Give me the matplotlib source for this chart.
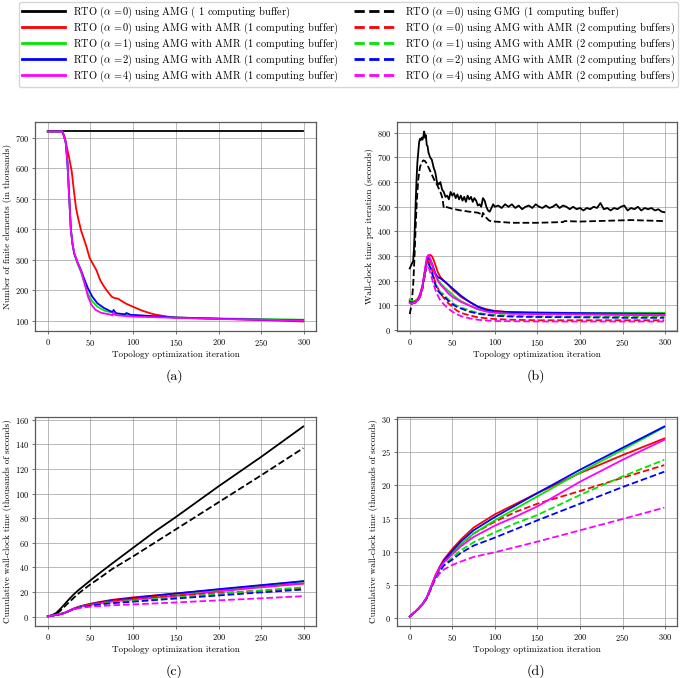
import matplotlib
matplotlib.use("Agg")
import matplotlib.pyplot as plt

plt.rcParams['font.family'] = 'serif'
plt.rcParams['font.serif'] = ['cmr10']
plt.rcParams['mathtext.fontset'] = 'cm'
plt.rcParams['axes.formatter.use_mathtext'] = True

# ---------------- data ----------------
# (a) number of finite elements (thousands)
it_a_black = [0, 299]
a_black = [720, 720]
it_a_red = [0, 17, 20, 23, 25, 28, 30, 33, 36, 39, 42, 45, 49, 53, 57, 61, 65, 70, 75, 78, 82, 86, 92, 100, 111, 120, 127, 140, 150, 200, 250, 299]
a_red = [720, 720, 700, 660, 634, 590, 540, 470, 430, 395, 370, 345, 305, 285, 265, 235, 215, 195, 178, 174, 172, 165, 155, 145, 132, 124, 119, 113, 110, 106, 102, 97]
it_a_grn = [0, 17, 19, 21, 23, 25, 27, 29, 31, 35, 39, 43, 47, 52, 58, 66, 74, 80, 90, 100, 150, 200, 250, 299]
a_grn = [720, 720, 705, 684, 620, 510, 400, 350, 318, 285, 258, 222, 188, 163, 146, 133, 127, 123, 120, 117, 110, 107, 105, 103]
it_a_blu = [0, 17, 19, 21, 23, 25, 27, 29, 31, 35, 39, 43, 47, 52, 58, 66, 74, 76, 77, 80, 89, 91, 92, 97, 150, 200, 250, 299]
a_blu = [720, 720, 705, 684, 620, 510, 400, 350, 320, 290, 265, 234, 206, 179, 157, 141, 130, 128, 135, 124, 121, 121, 125, 119, 110, 106, 103, 101]
it_a_mag = [0, 17, 19, 21, 23, 25, 27, 29, 31, 35, 39, 43, 47, 51, 56, 62, 74, 76, 77, 79, 86, 101, 150, 200, 250, 299]
a_mag = [720, 720, 705, 684, 618, 508, 398, 350, 322, 289, 262, 223, 179, 152, 135, 126, 119, 117, 127, 118, 116, 113, 109, 105, 103, 100]

# (b) wall-clock time per iteration (seconds)
it_b_k = [0, 2, 4, 5, 6, 7, 8, 9, 10, 11, 12, 13, 14, 15, 16, 17, 18, 19, 20, 21, 22, 23, 24, 26, 28, 30, 32, 34, 36, 38, 40, 42, 44, 46, 48, 50, 52, 54, 56, 58, 60, 62, 64, 66, 68, 70, 72, 74, 76, 78, 80, 82, 84, 86, 88, 90, 92, 94, 96, 98, 100,
          104, 108, 112, 116, 120, 124, 128, 132, 136, 140, 144, 148, 152, 156, 160, 164, 168, 172, 176, 180, 184, 188, 192, 196, 200, 204, 208, 212, 216, 220, 224, 228, 232, 236, 240, 244, 248, 252, 256, 260, 264, 268, 272, 276, 280, 284, 288, 292, 296, 299]
b_k = [250, 265, 280, 330, 420, 520, 610, 680, 720, 760, 775, 770, 780, 772, 785, 805, 780, 790, 750, 745, 720, 710, 700, 690, 660, 640, 600, 590, 600, 570, 560, 540, 545, 530, 560, 545, 555, 535, 550, 530, 545, 525, 540, 520, 545, 530, 540, 520, 535, 525, 505, 510, 500, 535, 525, 500, 485, 480, 495, 510, 500,
       505, 495, 510, 500, 510, 495, 505, 490, 500, 505, 495, 510, 500, 495, 505, 495, 500, 510, 495, 505, 500, 490, 500, 490, 495, 485, 495, 490, 500, 495, 515, 490, 495, 485, 495, 490, 500, 505, 485, 495, 490, 500, 485, 495, 490, 495, 485, 490, 480, 478]
it_b_kd = [0, 2, 4, 5, 6, 7, 8, 9, 10, 12, 14, 16, 18, 20, 22, 24, 26, 28, 30, 32, 34, 36, 38, 39, 40, 42, 50, 60, 70, 80, 84, 85, 86, 88, 90, 93, 96, 100, 120, 150, 180, 182, 200, 230, 260, 299]
b_kd = [65, 100, 180, 250, 330, 420, 500, 560, 610, 660, 680, 688, 685, 675, 660, 645, 630, 615, 600, 590, 575, 560, 540, 520, 495, 500, 492, 485, 480, 476, 470, 460, 475, 465, 455, 445, 440, 440, 435, 435, 438, 442, 440, 443, 446, 442]

it_b = [0, 3, 6, 9, 12, 15, 18, 20, 22, 24, 26, 28, 30, 33, 36, 40, 45, 50, 55, 60, 70, 80, 90, 100, 120, 150, 200, 250, 299]
b_red = [120, 115, 118, 125, 145, 180, 240, 280, 300, 305, 300, 285, 265, 235, 215, 200, 185, 165, 150, 135, 115, 95, 85, 78, 72, 68, 65, 62, 60]
b_grn = [125, 118, 115, 122, 140, 175, 240, 275, 290, 285, 270, 250, 230, 205, 190, 175, 160, 145, 130, 118, 100, 85, 78, 74, 72, 71, 70, 70, 70]
b_blu = [115, 112, 115, 120, 138, 175, 240, 280, 295, 285, 270, 250, 230, 215, 210, 200, 185, 170, 155, 140, 115, 95, 82, 76, 73, 71, 69, 67, 66]
b_mag = [110, 108, 112, 120, 140, 180, 250, 295, 305, 290, 270, 245, 225, 200, 185, 170, 150, 135, 125, 115, 100, 85, 75, 70, 66, 65, 64, 63, 62]
b_red_d = [110, 108, 110, 118, 135, 170, 230, 270, 280, 265, 245, 220, 195, 170, 150, 130, 110, 95, 80, 70, 60, 52, 48, 45, 42, 40, 40, 40, 40]
b_grn_d = [120, 115, 115, 120, 135, 170, 230, 265, 270, 255, 235, 210, 190, 165, 155, 145, 125, 110, 100, 92, 80, 70, 65, 62, 58, 56, 55, 55, 55]
b_blu_d = [115, 112, 112, 118, 135, 170, 230, 265, 270, 255, 235, 210, 185, 160, 148, 138, 120, 105, 95, 88, 75, 67, 62, 58, 55, 53, 52, 50, 50]
b_mag_d = [110, 108, 112, 118, 135, 170, 235, 262, 258, 235, 210, 185, 165, 140, 120, 105, 88, 75, 65, 57, 48, 42, 39, 37, 36, 35, 35, 35, 35]

# (c)/(d) cumulative wall-clock time (thousands of seconds)
it_c = [0, 5, 10, 15, 20, 25, 30, 35, 40, 50, 60, 75, 100, 125, 150, 200, 250, 299]
c_black = [0.25, 1.2, 3.0, 6.5, 10.3, 14.2, 17.8, 21.0, 23.8, 29.5, 35, 43, 56, 69, 81, 106, 130, 154.6]
c_black_d = [0.07, 0.8, 2.0, 5.0, 8.4, 11.8, 15.0, 18.2, 21.0, 26.3, 31, 38.5, 49, 60, 71, 93, 115, 137]
c_red = [0.25, 0.8, 1.4, 2.1, 3.1, 4.7, 6.4, 7.7, 8.8, 10.4, 11.8, 13.6, 15.6, 17.2, 18.8, 21.8, 24.5, 27.0]
c_grn = [0.25, 0.8, 1.4, 2.1, 3.1, 4.6, 6.2, 7.4, 8.5, 9.8, 11.1, 12.7, 14.7, 16.5, 18.3, 21.9, 25.3, 28.7]
c_blu = [0.25, 0.8, 1.4, 2.1, 3.1, 4.6, 6.2, 7.5, 8.6, 10.1, 11.5, 13.2, 15.2, 17.0, 18.8, 22.3, 25.6, 28.8]
c_mag = [0.25, 0.8, 1.4, 2.1, 3.1, 4.7, 6.3, 7.5, 8.4, 9.6, 10.8, 12.2, 13.9, 15.3, 16.8, 20.5, 23.8, 26.8]
c_red_d = [0.25, 0.8, 1.4, 2.1, 3.0, 4.5, 6.1, 7.3, 8.3, 9.8, 11.0, 12.7, 14.5, 16.0, 17.2, 19.1, 21.1, 23.0]
c_grn_d = [0.25, 0.8, 1.4, 2.1, 3.0, 4.5, 6.0, 7.1, 8.0, 9.1, 10.2, 11.4, 12.9, 14.3, 15.5, 18.5, 21.3, 23.8]
c_blu_d = [0.25, 0.8, 1.4, 2.1, 3.0, 4.5, 6.0, 7.0, 7.9, 8.8, 9.8, 10.9, 12.1, 13.4, 14.7, 17.2, 19.7, 22.0]
c_mag_d = [0.25, 0.8, 1.4, 2.1, 3.0, 4.5, 5.8, 6.7, 7.3, 8.0, 8.5, 9.2, 9.9, 10.7, 11.5, 13.2, 14.9, 16.6]

labels_solid = [r"RTO ($\alpha$ =0) using AMG ( 1 computing buffer)",
                r"RTO ($\alpha$ =0) using AMG with AMR (1 computing buffer)",
                r"RTO ($\alpha$ =1) using AMG with AMR (1 computing buffer)",
                r"RTO ($\alpha$ =2) using AMG with AMR (1 computing buffer)",
                r"RTO ($\alpha$ =4) using AMG with AMR (1 computing buffer)"]
labels_dash = [r"RTO ($\alpha$ =0) using GMG (1 computing buffer)",
               r"RTO ($\alpha$ =0) using AMG with AMR (2 computing buffers)",
               r"RTO ($\alpha$ =1) using AMG with AMR (2 computing buffers)",
               r"RTO ($\alpha$ =2) using AMG with AMR (2 computing buffers)",
               r"RTO ($\alpha$ =4) using AMG with AMR (2 computing buffers)"]
colors = ['black', '#ff0000', '#00e600', '#0000ff', '#ff00ff']

LW = 1.3
TICK_FS = 6.0
LAB_FS = 6.6

fig = plt.figure(figsize=(6.85, 6.78), dpi=100)
W, H = 685.0, 678.0
def mk(l, t, r, b):
    return fig.add_axes([l / W, 1 - b / H, (r - l) / W, (b - t) / H])

axa = mk(35, 122, 316, 331)
axb = mk(397, 122, 677, 331)
axc = mk(35, 417, 316, 626)
axd = mk(397, 417, 677, 626)

for ax in (axa, axb, axc, axd):
    ax.set_axisbelow(True)
    ax.grid(True, color='0.55', lw=0.7, alpha=0.6)
    for s in ax.spines.values():
        s.set_color('0.35')
        s.set_linewidth(0.9)
    ax.tick_params(labelsize=TICK_FS, length=2.5, width=0.6, color='0.35', pad=2)
    ax.set_xticks([0, 50, 100, 150, 200, 250, 300])
    ax.set_xlabel("Topology optimization iteration", fontsize=LAB_FS, labelpad=1.5)

# (a)
axa.plot(it_a_black, a_black, color=colors[0], lw=LW)
axa.plot(it_a_red, a_red, color=colors[1], lw=LW)
axa.plot(it_a_grn, a_grn, color=colors[2], lw=LW)
axa.plot(it_a_blu, a_blu, color=colors[3], lw=LW)
axa.plot(it_a_mag, a_mag, color=colors[4], lw=LW)
axa.set_yticks([100, 200, 300, 400, 500, 600, 700])
axa.set_ylabel("Number of finite elements (in thousands)", fontsize=LAB_FS, labelpad=2)

# (b)
axb.plot(it_b_k, b_k, color=colors[0], lw=LW)
axb.plot(it_b_kd, b_kd, color=colors[0], lw=LW, ls='--')
for c, y in zip(colors[1:], [b_red, b_grn, b_blu, b_mag]):
    axb.plot(it_b, y, color=c, lw=LW)
for c, y in zip(colors[1:], [b_red_d, b_grn_d, b_blu_d, b_mag_d]):
    axb.plot(it_b, y, color=c, lw=LW, ls='--')
axb.set_yticks([0, 100, 200, 300, 400, 500, 600, 700, 800])
axb.set_ylabel("Wall-clock time per iteration (seconds)", fontsize=LAB_FS, labelpad=2)

# (c)
hs = []
hs.append(axc.plot(it_c, c_black, color=colors[0], lw=LW)[0])
hd = [axc.plot(it_c, c_black_d, color=colors[0], lw=LW, ls='--')[0]]
for c, y in zip(colors[1:], [c_red, c_grn, c_blu, c_mag]):
    hs.append(axc.plot(it_c, y, color=c, lw=LW)[0])
for c, y in zip(colors[1:], [c_red_d, c_grn_d, c_blu_d, c_mag_d]):
    hd.append(axc.plot(it_c, y, color=c, lw=LW, ls='--')[0])
axc.set_yticks([0, 20, 40, 60, 80, 100, 120, 140, 160])
axc.set_ylabel("Cumulative wall-clock time (thousands of seconds)", fontsize=LAB_FS, labelpad=2)

# (d)
for c, y in zip(colors[1:], [c_red_d, c_grn_d, c_blu_d, c_mag_d]):
    axd.plot(it_c, y, color=c, lw=LW, ls='--')
for c, y in zip(colors[1:], [c_red, c_grn, c_blu, c_mag]):
    axd.plot(it_c, y, color=c, lw=LW)
axd.set_yticks([0, 5, 10, 15, 20, 25, 30])
axd.set_ylabel("Cumulative wall-clock time (thousands of seconds)", fontsize=LAB_FS, labelpad=2)

for ax, lab in zip((axa, axb, axc, axd), ["(a)", "(b)", "(c)", "(d)"]):
    pos = ax.get_position()
    yy = pos.y0 - 45 / H
    fig.text((pos.x0 + pos.x1) / 2 - 1 / W, yy, lab, ha='center', va='center', fontsize=10)

leg = fig.legend(hs + hd, labels_solid + labels_dash, ncol=2, loc='upper center',
                 bbox_to_anchor=(348.5 / W, 1.0), fontsize=7.5, handlelength=4.2,
                 columnspacing=1.4, handletextpad=0.75, labelspacing=0.06,
                 frameon=True, fancybox=True, edgecolor='0.8', borderpad=0.3,
                 borderaxespad=0.15)
for l in leg.get_lines():
    l.set_linewidth(2.0)

fig.savefig("out.png", dpi=100)
